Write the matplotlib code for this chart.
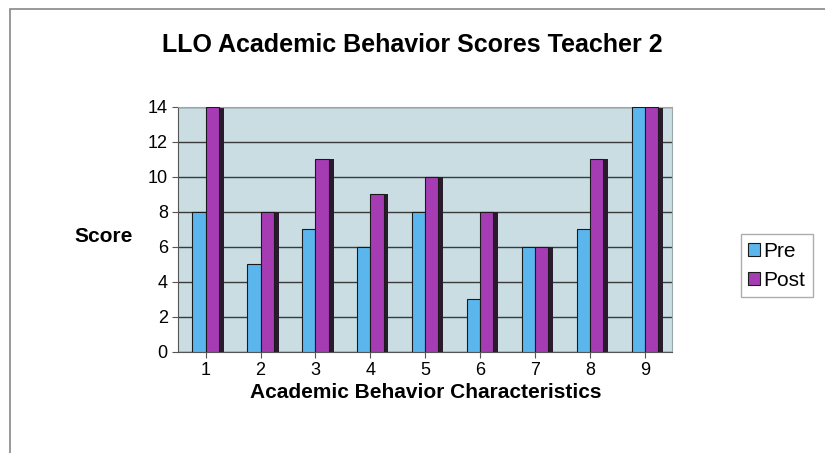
import matplotlib.pyplot as plt
from matplotlib.patches import Rectangle
import numpy as np

plt.rcParams['font.family'] = ['Liberation Sans', 'DejaVu Sans']

categories = ["1", "2", "3", "4", "5", "6", "7", "8", "9"]
pre = [8, 5, 7, 6, 8, 3, 6, 7, 14]
post = [14, 8, 11, 9, 10, 8, 6, 11, 14]
yticks = [0, 2, 4, 6, 8, 10, 12, 14]

pre_color = "#5cb6ee"
post_color = "#a63cb4"
side_color = "#2a1a2e"

fig = plt.figure(figsize=(8.25, 4.53), dpi=100)
fig.patches.append(Rectangle((0.012, -0.01), 1.0, 0.99, transform=fig.transFigure,
                             fill=False, edgecolor="#888888", linewidth=1.2))

ax = fig.add_axes([0.216, 0.223, 0.599, 0.541])
ax.set_facecolor("#c9dde2")

x = np.arange(1, len(categories) + 1)
w = 0.24
side = 0.09

# dark side faces first, then fronts on top
ax.bar(x - w / 2 + side, pre, w, color=side_color, zorder=2)
ax.bar(x + w / 2 + side, post, w, color=side_color, zorder=2)
ax.bar(x - w / 2, pre, w, color=pre_color, edgecolor="#1a1a1a", linewidth=0.8, zorder=3, label="Pre")
ax.bar(x + w / 2, post, w, color=post_color, edgecolor="#1a1a1a", linewidth=0.8, zorder=3, label="Post")

ax.set_xlim(0.5, 9.5)
ax.set_ylim(0, 14)
ax.set_yticks(yticks)
ax.set_xticks(x)
ax.set_xticklabels(categories)
ax.tick_params(axis="both", labelsize=13, length=4, color="#555555")
ax.grid(axis="y", color="#3a3a3a", linewidth=1.0, zorder=1)
ax.set_axisbelow(True)
for s in ["top", "right"]:
    ax.spines[s].set_color("#9aa8aa")
ax.spines["left"].set_color("#555555")
ax.spines["bottom"].set_color("#555555")

ax.set_xlabel("Academic Behavior Characteristics", fontsize=15, fontweight="bold")
ax.xaxis.set_label_coords(0.5, -0.125)
ax.set_ylabel("Score", fontsize=15, fontweight="bold", rotation=0, ha="center", va="center")
ax.yaxis.set_label_coords(-0.15, 0.47)
fig.text(0.5, 0.9, "LLO Academic Behavior Scores Teacher 2", ha="center", va="center",
         fontsize=18, fontweight="bold")

leg = fig.legend(loc="center left", bbox_to_anchor=(0.885, 0.413), fontsize=15,
                 handlelength=0.6, handleheight=0.6, handletextpad=0.15,
                 borderpad=0.35, labelspacing=0.5, frameon=True, fancybox=False)
leg.get_frame().set_edgecolor("#999999")

fig.savefig("out.png", dpi=100)
